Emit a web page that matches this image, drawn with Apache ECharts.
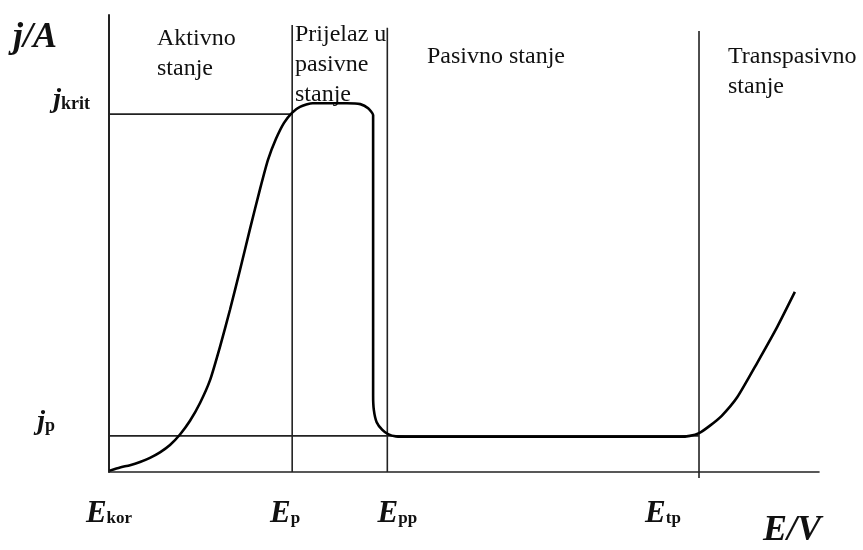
<!DOCTYPE html>
<html><head><meta charset="utf-8">
<script src="https://cdn.jsdelivr.net/npm/echarts@6/dist/echarts.min.js"></script>
<style>html,body{margin:0;padding:0;background:#fff}#c{width:863px;height:550px}</style>
</head><body><div id="c"></div>
<script>
// Potentials on the E axis (arbitrary units, 0..100)
const potentialSubs = ['kor', 'p', 'pp', 'tp'];
const potentialValues = [0, 25.8, 39.2, 83.1];
// Current densities on the j axis (arbitrary units, 0..100)
const currentSubs = ['krit', 'p'];
const currentValues = [78.3, 7.9];
// Top ends of the boundary lines at E_p, E_pp, E_tp
const boundaryTops = [97.8, 97.2, 96.5];
// Polarisation curve
const curveE = [0.1, 1.55, 2.96, 4.37, 5.77, 7.18, 8.59, 10.0, 11.41, 12.82, 14.23, 15.63, 17.04, 18.45, 19.86, 21.27, 22.39, 23.52, 24.65, 25.77, 26.9, 28.7, 33.5, 35.4, 36.5, 37.2, 37.2, 37.2, 37.2, 37.3, 37.7, 38.5, 39.3, 40.4, 42.4, 60.0, 80.4, 81.8, 83.1, 84.6, 86.3, 88.5, 91.3, 94.1, 96.6];
const curveJ = [0.3, 1.0, 1.5, 2.2, 3.1, 4.3, 5.9, 8.2, 11.2, 15.1, 20.1, 27.4, 35.5, 44.2, 53.2, 61.9, 68.3, 72.9, 76.4, 78.6, 79.9, 80.7, 80.7, 80.5, 79.6, 78.1, 75.9, 48.6, 16.8, 13.6, 10.9, 9.2, 8.3, 7.8, 7.7, 7.7, 7.7, 7.9, 8.5, 10.1, 12.3, 16.4, 23.9, 31.7, 39.4];
const regionLabels = ['Aktivno\nstanje', 'Prijelaz u\npasivne\nstanje', 'Pasivno stanje', 'Transpasivno\nstanje'];
const axisNames = ['E/V', 'j/A'];

const serif = '"Liberation Serif", "DejaVu Serif", serif';
const ink = '#222';
const labelShiftX = [0, -7, 10, -36];
const jLabelGap = [0, 35];

const rich = {
  E: { fontFamily: serif, fontStyle: 'italic', fontWeight: 'bold', fontSize: 31, color: '#111' },
  s: { fontFamily: serif, fontWeight: 'bold', fontSize: 17, color: '#111', padding: [10, 0, 0, 0] },
  J: { fontFamily: serif, fontStyle: 'italic', fontWeight: 'bold', fontSize: 28, color: '#111' },
  js: { fontFamily: serif, fontWeight: 'bold', fontSize: 18, color: '#111', padding: [8, 0, 0, 0] }
};
labelShiftX.forEach((s, i) => {
  rich['gl' + i] = { width: s > 0 ? 2 * s : 0 };
  rich['gr' + i] = { width: s < 0 ? -2 * s : 0 };
});
jLabelGap.forEach((g, i) => { rich['jg' + i] = { width: g }; });

const curve = curveE.map((e, i) => [e, curveJ[i]]);
const series = [];
for (let i = 1; i < potentialValues.length; i++) {
  series.push({
    type: 'line', silent: true, showSymbol: false, clip: false,
    data: [[potentialValues[i], i === 3 ? -1.3 : 0], [potentialValues[i], boundaryTops[i - 1]]],
    lineStyle: { color: ink, width: 1.6 }
  });
}
series.push({
  type: 'line', silent: true, showSymbol: false,
  data: [[0, currentValues[0]], [potentialValues[1], currentValues[0]]],
  lineStyle: { color: ink, width: 1.6 }
});
series.push({
  type: 'line', silent: true, showSymbol: false,
  data: [[0, currentValues[1]], [potentialValues[3], currentValues[1]]],
  lineStyle: { color: ink, width: 1.6 }
});
series.push({
  type: 'line', silent: true, showSymbol: false, smooth: 0.2,
  data: curve,
  lineStyle: { color: '#000', width: 2.6 }
});

const textStyleRegion = { fontFamily: serif, fontSize: 24, fill: '#111', lineHeight: 30 };

const option = {
  animation: false,
  backgroundColor: '#fff',
  grid: { left: 109, right: 44, top: 15, bottom: 78 },
  xAxis: {
    type: 'value', min: 0, max: 100,
    axisLine: { show: true, lineStyle: { color: ink, width: 1.6 } },
    axisTick: { show: false }, splitLine: { show: false },
    axisLabel: {
      customValues: potentialValues, margin: 26,
      formatter: (v) => {
        const i = potentialValues.indexOf(v);
        return '{gl' + i + '|}{E|E}{s|' + potentialSubs[i] + '}{gr' + i + '|}';
      },
      rich: rich
    }
  },
  yAxis: {
    type: 'value', min: 0, max: 100,
    axisLine: { show: true, lineStyle: { color: ink, width: 2 } },
    axisTick: { show: false }, splitLine: { show: false },
    axisLabel: {
      customValues: currentValues, margin: 19, verticalAlign: 'bottom',
      formatter: (v) => {
        const i = currentValues.indexOf(v);
        return '{J|j}{js|' + currentSubs[i] + '}{jg' + i + '|}';
      },
      rich: rich
    }
  },
  graphic: [
    { type: 'text', left: 13, top: 20, style: { text: axisNames[1], fontFamily: serif, fontStyle: 'italic', fontWeight: 'bold', fontSize: 36, fill: '#111' } },
    { type: 'text', left: 763, top: 513, style: { text: axisNames[0], fontFamily: serif, fontStyle: 'italic', fontWeight: 'bold', fontSize: 36, fill: '#111' } },
    { type: 'text', left: 157, top: 24, style: Object.assign({ text: regionLabels[0] }, textStyleRegion) },
    { type: 'text', left: 295, top: 20, style: Object.assign({ text: regionLabels[1] }, textStyleRegion) },
    { type: 'text', left: 427, top: 42, style: Object.assign({ text: regionLabels[2] }, textStyleRegion) },
    { type: 'text', left: 728, top: 42, style: Object.assign({ text: regionLabels[3] }, textStyleRegion) }
  ],
  series: series
};
const chart = echarts.init(document.getElementById('c'), null, { renderer: 'canvas' });
chart.setOption(option);
</script></body></html>
